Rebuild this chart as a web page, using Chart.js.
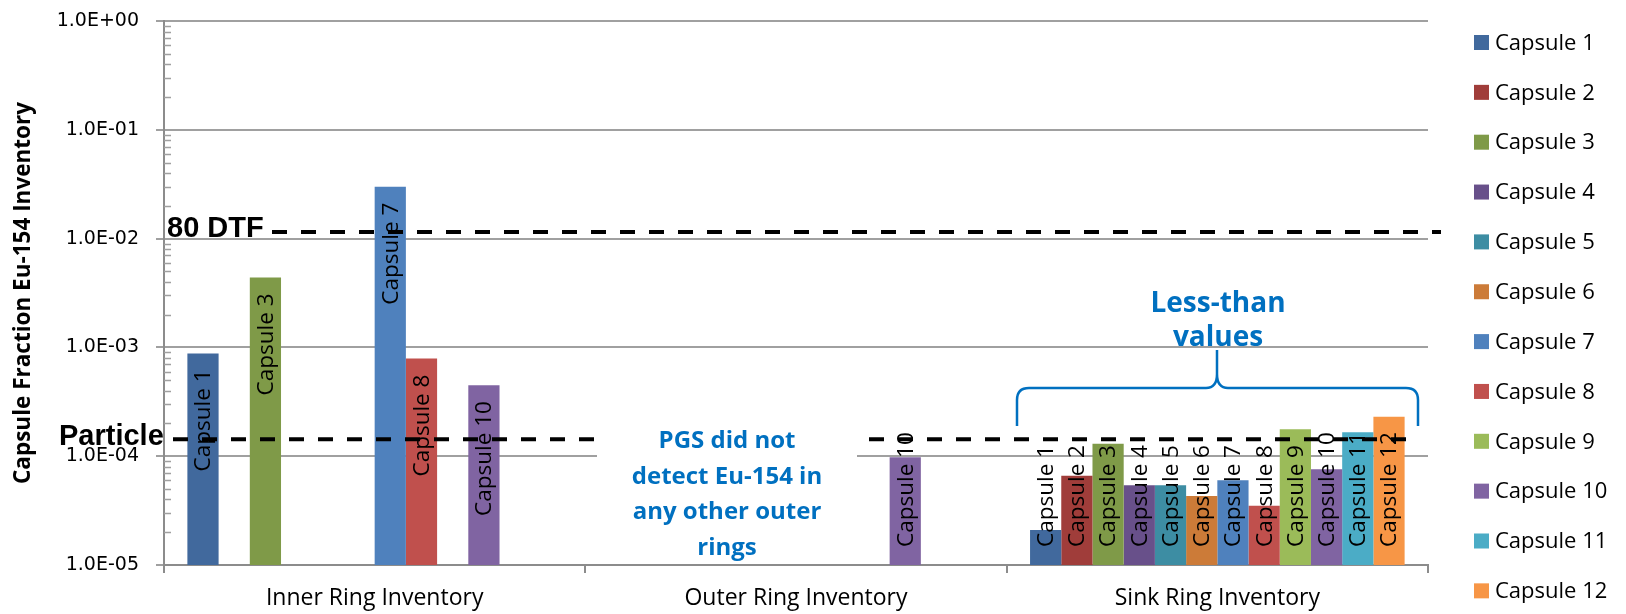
<!DOCTYPE html>
<html>
<head>
<meta charset="utf-8">
<script src="https://cdn.jsdelivr.net/npm/chart.js@4.4.1/dist/chart.umd.min.js"></script>
<style>
  html, body { margin: 0; padding: 0; background: #fff; }
  #wrap { width: 1626px; height: 614px; }
</style>
</head>
<body>
<div id="wrap"><canvas id="chart" width="1626" height="614"></canvas></div>
<script>
// === data ===
const categories = ['Inner Ring Inventory', 'Outer Ring Inventory', 'Sink Ring Inventory'];
const capsules = ['Capsule 1', 'Capsule 2', 'Capsule 3', 'Capsule 4', 'Capsule 5', 'Capsule 6',
  'Capsule 7', 'Capsule 8', 'Capsule 9', 'Capsule 10', 'Capsule 11', 'Capsule 12'];
const capsuleColors = ['#41699D', '#A03D3A', '#7F9A48', '#68508A', '#3D8DA3', '#CC7B38',
  '#4F81BD', '#C0504D', '#9BBB59', '#8064A2', '#4BACC6', '#F79646'];

// one value per capsule, null where nothing was measured
const innerRing = [8.8e-4, null, 4.4e-3, null, null, null, 3.0e-2, 7.9e-4, null, 4.5e-4, null, null];
const outerRing = [null, null, null, null, null, null, null, null, null, 9.8e-5, null, null];
const sinkRing = [2.1e-5, 6.6e-5, 1.3e-4, 5.4e-5, 5.4e-5, 4.3e-5, 6.0e-5, 3.5e-5, 1.77e-4, 7.6e-5, 1.66e-4, 2.3e-4];

const yTicks = [1e-5, 1e-4, 1e-3, 1e-2, 1e-1, 1];
const dtfLimit = 1.15e-2;      // "80 DTF"
const particleLimit = 1.43e-4; // "Particle"

const BLUE = '#0070C0';
const GRID = '#A0A0A0';

const sciLabel = v => {
  const e = Math.round(Math.log10(v));
  return '1.0E' + (e < 0 ? '-' : '+') + String(Math.abs(e)).padStart(2, '0');
};

function dashed(ctx, x0, x1, y) {
  ctx.save();
  ctx.strokeStyle = '#000';
  ctx.lineWidth = 4;
  ctx.setLineDash([15, 14]);
  ctx.beginPath();
  ctx.moveTo(x0, y);
  ctx.lineTo(x1, y);
  ctx.stroke();
  ctx.restore();
}

// bar labels, limit lines, notes, legend
const decorations = {
  id: 'decorations',
  afterDatasetsDraw(chart) {
    const ctx = chart.ctx;
    const y = chart.scales.y;

    // labels written up the bars
    ctx.save();
    ctx.font = '22.5px "Open Sans"';
    ctx.fillStyle = '#000';
    ctx.textBaseline = 'middle';
    ctx.textAlign = 'left';
    chart.data.datasets.forEach((ds, di) => {
      chart.getDatasetMeta(di).data.forEach((bar, i) => {
        if (ds.data[i] == null) return;
        const w = ctx.measureText(ds.label).width;
        const endY = Math.min(bar.y + 16, bar.base - 18 - w);
        ctx.save();
        ctx.translate(bar.x, endY + w);
        ctx.rotate(-Math.PI / 2);
        ctx.fillText(ds.label, 0, 1);
        ctx.restore();
      });
    });
    ctx.restore();

    // limit lines
    const yDtf = y.getPixelForValue(dtfLimit);
    const yPart = y.getPixelForValue(particleLimit);
    dashed(ctx, 272, 1441, yDtf);
    dashed(ctx, 173, 1411, yPart);

    ctx.save();
    ctx.fillStyle = '#000';
    ctx.font = 'bold 29px "Liberation Sans"';
    ctx.textBaseline = 'alphabetic';
    ctx.textAlign = 'left';
    ctx.fillText('80 DTF', 167, yDtf + 5);
    ctx.fillText('Particle', 59, yPart + 6);
    ctx.restore();

    // outer ring note on a white box
    ctx.save();
    ctx.fillStyle = '#fff';
    ctx.fillRect(597, 418, 260, 144);
    ctx.fillStyle = BLUE;
    ctx.font = 'bold 24px "Open Sans"';
    ctx.textAlign = 'center';
    ['PGS did not', 'detect Eu-154 in', 'any other outer', 'rings'].forEach((t, i) => {
      ctx.fillText(t, 727, 448 + i * 35.7);
    });

    // less-than note with brace
    ctx.font = 'bold 28px "Open Sans"';
    ctx.fillText('Less-than', 1218, 312);
    ctx.fillText('values', 1218, 346);
    ctx.strokeStyle = BLUE;
    ctx.lineWidth = 2.5;
    ctx.beginPath();
    ctx.moveTo(1017, 426);
    ctx.lineTo(1017, 400);
    ctx.quadraticCurveTo(1017, 388, 1029, 388);
    ctx.lineTo(1206, 388);
    ctx.quadraticCurveTo(1217, 388, 1217, 374);
    ctx.lineTo(1217, 350);
    ctx.moveTo(1217, 374);
    ctx.quadraticCurveTo(1217, 388, 1228, 388);
    ctx.lineTo(1406, 388);
    ctx.quadraticCurveTo(1418, 388, 1418, 400);
    ctx.lineTo(1418, 426);
    ctx.stroke();
    ctx.restore();
  },
  afterDraw(chart) {
    const ctx = chart.ctx;
    const y = chart.scales.y;
    const left = chart.chartArea.left;

    // minor log ticks inside the axis
    ctx.save();
    ctx.strokeStyle = GRID;
    ctx.lineWidth = 1.5;
    ctx.beginPath();
    for (let d = 0; d < yTicks.length - 1; d++) {
      for (let k = 2; k <= 9; k++) {
        const py = Math.round(y.getPixelForValue(yTicks[d] * k)) + 0.5;
        ctx.moveTo(left, py);
        ctx.lineTo(left + 7, py);
      }
    }
    ctx.stroke();
    ctx.restore();

    // legend
    ctx.save();
    ctx.font = '22px "Open Sans"';
    ctx.textBaseline = 'middle';
    ctx.textAlign = 'left';
    chart.data.datasets.forEach((ds, i) => {
      const cy = 42.5 + i * 49.85;
      ctx.fillStyle = ds.backgroundColor;
      ctx.fillRect(1474, cy - 7.5, 15, 15);
      ctx.fillStyle = '#000';
      ctx.fillText(ds.label, 1495, cy + 1);
    });
    ctx.restore();
  }
};

function build() {
  const datasets = capsules.map((name, i) => ({
    label: name,
    data: [innerRing[i], outerRing[i], sinkRing[i]],
    backgroundColor: capsuleColors[i],
    borderWidth: 0,
    barPercentage: 1,
    categoryPercentage: 0.889
  }));

  new Chart(document.getElementById('chart'), {
    type: 'bar',
    data: { labels: categories, datasets },
    plugins: [decorations],
    options: {
      responsive: false,
      animation: false,
      layout: { padding: { left: 0, right: 198, top: 21, bottom: 0 } },
      plugins: { legend: { display: false }, tooltip: { enabled: false } },
      scales: {
        x: {
          afterFit: s => { s.height = 49; },
          grid: { offset: true, drawOnChartArea: false, tickLength: 8, color: '#8C8C8C', lineWidth: 2 },
          border: { color: '#8C8C8C', width: 2 },
          ticks: {
            color: '#000',
            font: { family: 'Open Sans', size: 23 },
            padding: 12,
            maxRotation: 0,
            autoSkip: false
          }
        },
        y: {
          type: 'logarithmic',
          min: yTicks[0],
          max: yTicks[yTicks.length - 1],
          afterFit: s => { s.width = 164; s.paddingTop = 0; s.paddingBottom = 0; },
          afterBuildTicks: s => { s.ticks = yTicks.map(v => ({ value: v })); },
          grid: { color: GRID, lineWidth: 2, tickLength: 8 },
          border: { color: '#8C8C8C', width: 2 },
          ticks: {
            color: '#000',
            font: { family: 'DejaVu Sans', size: 19 },
            padding: 17,
            callback: v => sciLabel(v)
          },
          title: {
            display: true,
            text: 'Capsule Fraction Eu-154 Inventory',
            color: '#000',
            font: { family: 'Open Sans', size: 22.5, weight: 'bold' },
            padding: { top: 10, bottom: 0 }
          }
        }
      }
    }
  });
}

Promise.all([
  document.fonts.load('22px "Open Sans"'),
  document.fonts.load('bold 22px "Open Sans"'),
  document.fonts.load('19px "DejaVu Sans"'),
  document.fonts.load('bold 22px "Liberation Sans"')
]).then(build, build);
</script>
</body>
</html>
